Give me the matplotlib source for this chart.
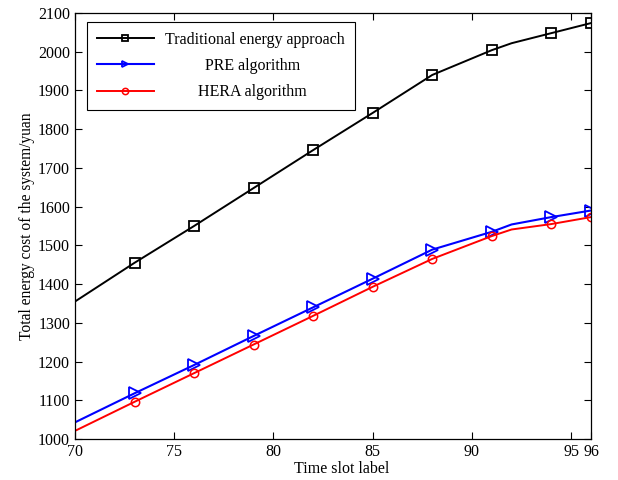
import matplotlib
matplotlib.use("Agg")
import matplotlib.pyplot as plt

plt.rcParams['font.family'] = ['Liberation Serif', 'DejaVu Serif']
plt.rcParams['mathtext.fontset'] = 'stix'

x_slots = [70, 73, 76, 79, 82, 85, 88, 91, 92, 94, 96]
traditional = [1355, 1455, 1550, 1648, 1746, 1842, 1940, 2004, 2022, 2048, 2074]
pre = [1043, 1118, 1191, 1266, 1340, 1414, 1489, 1535, 1554, 1573, 1590]
hera = [1021, 1096, 1170, 1244, 1318, 1393, 1465, 1524, 1541, 1555, 1573]
marker_idx = [1, 2, 3, 4, 5, 6, 7, 9, 10]

labels = ["Traditional energy approach", "PRE algorithm", "HERA algorithm"]
x_ticks = [70, 75, 80, 85, 90, 95, 96]
y_ticks = list(range(1000, 2101, 100))

fig = plt.figure(figsize=(6.18, 4.8), dpi=100)
ax = fig.add_axes([75/618, 41/480, 516/618, 426/480])

l1, = ax.plot(x_slots, traditional, color='black', lw=1.4, marker='s', ms=6.5,
              mfc='none', mec='black', mew=1.3, markevery=marker_idx, label=labels[0])
l2, = ax.plot(x_slots, pre, color='blue', lw=1.5, marker='>', ms=8,
              mfc='none', mec='blue', mew=1.3, markevery=marker_idx, label=labels[1])
l3, = ax.plot(x_slots, hera, color='red', lw=1.4, marker='o', ms=6,
              mfc='none', mec='red', mew=1.1, markevery=marker_idx, label=labels[2])

ax.set_xlim(70, 96)
ax.set_ylim(1000, 2100)
ax.set_xticks(x_ticks)
ax.set_yticks(y_ticks)
ax.tick_params(direction='in', top=True, right=True, length=5, width=0.8,
               labelsize=11.5, colors='black')
for s in ax.spines.values():
    s.set_linewidth(0.9)
    s.set_color('black')

ax.set_xlabel("Time slot label", fontsize=11.5, labelpad=3)
ax.xaxis.set_label_coords(0.517, -0.052)
ax.set_ylabel("Total energy cost of the system/yuan", fontsize=11.2, labelpad=2)

leg = ax.legend(loc='upper left', bbox_to_anchor=(12/516, 1 - 9/426), borderaxespad=0,
                fontsize=11.5, handlelength=3.6, handletextpad=0.7, labelspacing=0.65,
                borderpad=0.6, fancybox=False, framealpha=1, edgecolor='black')
leg.get_frame().set_linewidth(0.8)
for h in leg.legend_handles:
    h.set_markersize(4.5)

fig.canvas.draw()
r = fig.canvas.get_renderer()
texts = leg.get_texts()
widths = [t.get_window_extent(r).width for t in texts]
wmax = max(widths)
for t, w in zip(texts, widths):
    t.set_x((wmax - w) / 2 - 3 if w < wmax else 0)

fig.savefig("out.png", dpi=100, facecolor='white')
